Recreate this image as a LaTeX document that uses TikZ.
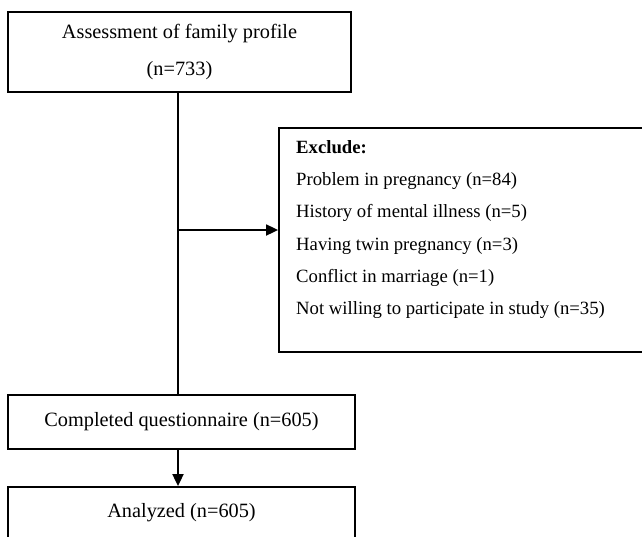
\documentclass[tikz,border=0pt]{standalone}
\usepackage{fontspec}
\setmainfont{Liberation Serif}
\usetikzlibrary{arrows.meta}
\tikzset{box/.style={draw,line width=1.8pt,inner sep=0pt}}

\begin{document}
\begin{tikzpicture}[x=1pt,y=-1pt,font=\fontsize{20.3}{24}\selectfont]
\clip (0,0) rectangle (642,536);
\node[box,minimum width=343,minimum height=80,align=center] (profile)at(179.5,52){Assessment of family profile\\[13pt](n=733)};
\node[box,minimum width=390,minimum height=224] (exclude)at(474,240){};
\node[anchor=north west,inner sep=0pt,align=left,font=\fontsize{18.7}{32.3}\selectfont] (reasons)at(296,140){\textbf{Exclude:}\\Problem in pregnancy (n=84)\\History of mental illness (n=5)\\Having twin pregnancy (n=3)\\Conflict in marriage (n=1)\\Not willing to participate in study (n=35)};
\node[box,minimum width=347,minimum height=54] (complete)at(181.5,422){Completed questionnaire (n=605)};
\node[box,minimum width=347,minimum height=52] (analyzed)at(181.5,513){Analyzed (n=605)};
\coordinate (split)at(178,230);
\draw[line width=1.8pt] (profile.south -| split) -- (complete.north -| split);
\draw[->,>={Triangle[length=12pt,width=11pt]},line width=1.8pt] (split) -- (split -| exclude.west);
\draw[->,>={Triangle[length=12pt,width=11pt]},line width=1.8pt] (complete.south -| split) -- (analyzed.north -| split);
\end{tikzpicture}
\end{document}
